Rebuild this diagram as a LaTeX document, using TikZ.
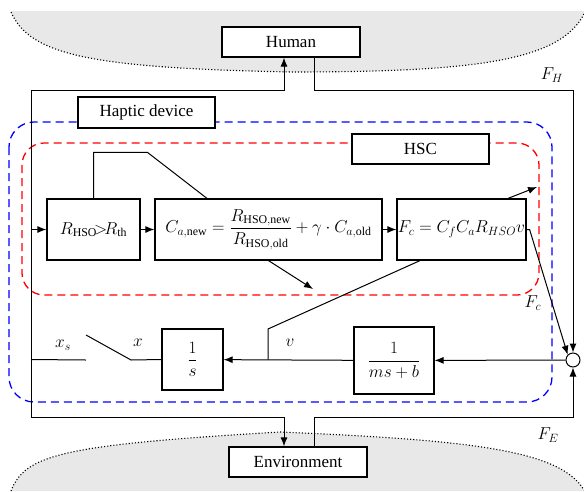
\documentclass[tikz,border=0pt]{standalone}
\usepackage{amsmath}
\usepackage{fontspec}
\setmainfont{Liberation Serif}
\usetikzlibrary{arrows.meta}

\begin{document}
\begin{tikzpicture}[x=1pt, y=-1pt, every node/.style={font=\fontsize{17}{20}\selectfont}, >={Latex[length=9pt,width=7pt]},
	blk/.style={draw, line width=1.2pt, fill=white, inner sep=0pt},
	wire/.style={line width=1pt},
	zone/.style={dash pattern=on 8pt off 5pt, line width=1.3pt}]
	\useasboundingbox (0,0) rectangle (584,491);
	% human and environment areas
	\fill[black!9] (11,11) -- (584,11) -- (584,14) .. controls (560,60) and (480,72) .. (292,72) .. controls (90,68) and (30,55) .. (11,12) -- cycle;
	\draw[dotted, line width=1.1pt] (584,14) .. controls (560,60) and (480,72) .. (292,72) .. controls (90,68) and (30,55) .. (11,12);
	\fill[black!9] (11,491) .. controls (25,455) and (60,445) .. (280,432) .. controls (470,440) and (560,450) .. (584,490) -- (584,491) -- cycle;
	\draw[dotted, line width=1.1pt] (11,491) .. controls (25,455) and (60,445) .. (280,432) .. controls (470,440) and (560,450) .. (584,490);
	% device and controller zones
	\draw[blue, zone, rounded corners=25pt] (9,122) rectangle (552,402);
	\draw[red, zone, rounded corners=22pt] (22,143) rectangle (539,295);
	\coordinate (ftl) at (31,90);
	\coordinate (ftr) at (573,90);
	\coordinate (fbl) at (31,417);
	\coordinate (fbr) at (573,417);
	% blocks
	\node[blk, minimum width=138pt, minimum height=30pt] (human) at (291,42) {Human};
	\node[blk, minimum width=138pt, minimum height=30pt] (env) at (298,462) {Environment};
	\node[blk, minimum width=137pt, minimum height=31pt] (dev) at (146.5,112.5) {Haptic device};
	\node[blk, minimum width=137pt, minimum height=30pt] (hsc) at (420.5,149) {HSC};
	\node[blk, minimum width=93pt, minimum height=61pt] (rcmp) at (93.5,229.5) {$R_{\mathrm{HSO}}\!{>}\!R_{\mathrm{th}}$};
	\node[blk, minimum width=227pt, minimum height=61pt] (cupd) at (268.5,229.5) {$C_{a,\mathrm{new}}=\dfrac{R_{\mathrm{HSO,new}}}{R_{\mathrm{HSO,old}}}+\gamma\cdot C_{a,\mathrm{old}}$};
	\node[blk, minimum width=129pt, minimum height=61pt] (fc) at (461.5,229.5) {$F_c=C_fC_aR_{HSO}v$};
	\node[blk, minimum width=80pt, minimum height=67pt] (adm) at (394,360.5) {$\dfrac{1}{ms+b}$};
	\node[blk, minimum width=61pt, minimum height=61pt] (integ) at (192.5,359.5) {$\dfrac{1}{s}$};
	\node[circle, draw, line width=1pt, fill=white, minimum size=14pt, inner sep=0pt] (sum) at (573,360) {};
	% outer loop
	\draw[wire, ->] (fbl) -- (ftl) -| ([xshift=-7pt]human.south);
	\draw[wire, ->] (fbl) -| ([xshift=-14pt]env.north);
	\draw[wire, ->] ([xshift=23pt]human.south) |- (ftr) -- (sum.north);
	\draw[wire, ->] ([xshift=16pt]env.north) |- (fbr) -- (sum.south);
	% controller
	\draw[wire, ->] (ftl |- rcmp.west) -- (rcmp.west);
	\draw[wire, ->] (rcmp) -- (cupd);
	\draw[wire, ->] (cupd) -- (fc);
	\draw[wire] (rcmp.north) -- ++(0,-46) -- ++(54,0) -- ([xshift=-61.5pt]cupd.north);
	\coordinate (cout) at (313,289);
	\draw[wire, ->] (cupd.south) -- (cout);
	\coordinate (fout) at (537,187);
	\draw[wire, ->] ([xshift=46.5pt]fc.north) -- (fout);
	\draw[wire, ->] (fc.east) -- ++(3,0) -- (sum.north west);
	% plant
	\coordinate (vk) at (268,329);
	\draw[wire] ([xshift=-41.5pt]fc.south) -- (vk) -- (vk |- integ.east);
	\draw[wire, ->] (sum) -- (adm);
	\draw[wire, ->] (adm) -- (integ);
	\coordinate (sw) at (131,360);
	\coordinate (swt) at (86,335);
	\coordinate (swl) at (86,360);
	\draw[wire] (integ.west) -- (sw) -- (swt);
	\draw[wire] (swl) -- (ftl |- integ.west);
	% labels
	\node (lxs) at (63,345) {$x_s$};
	\node (lx) at (138,343) {$x$};
	\node (lv) at (290,343) {$v$};
	\node (lfh) at (552,75) {$F_H$};
	\node (lfc) at (533,303) {$F_c$};
	\node (lfe) at (548,435) {$F_E$};
\end{tikzpicture}
\end{document}
